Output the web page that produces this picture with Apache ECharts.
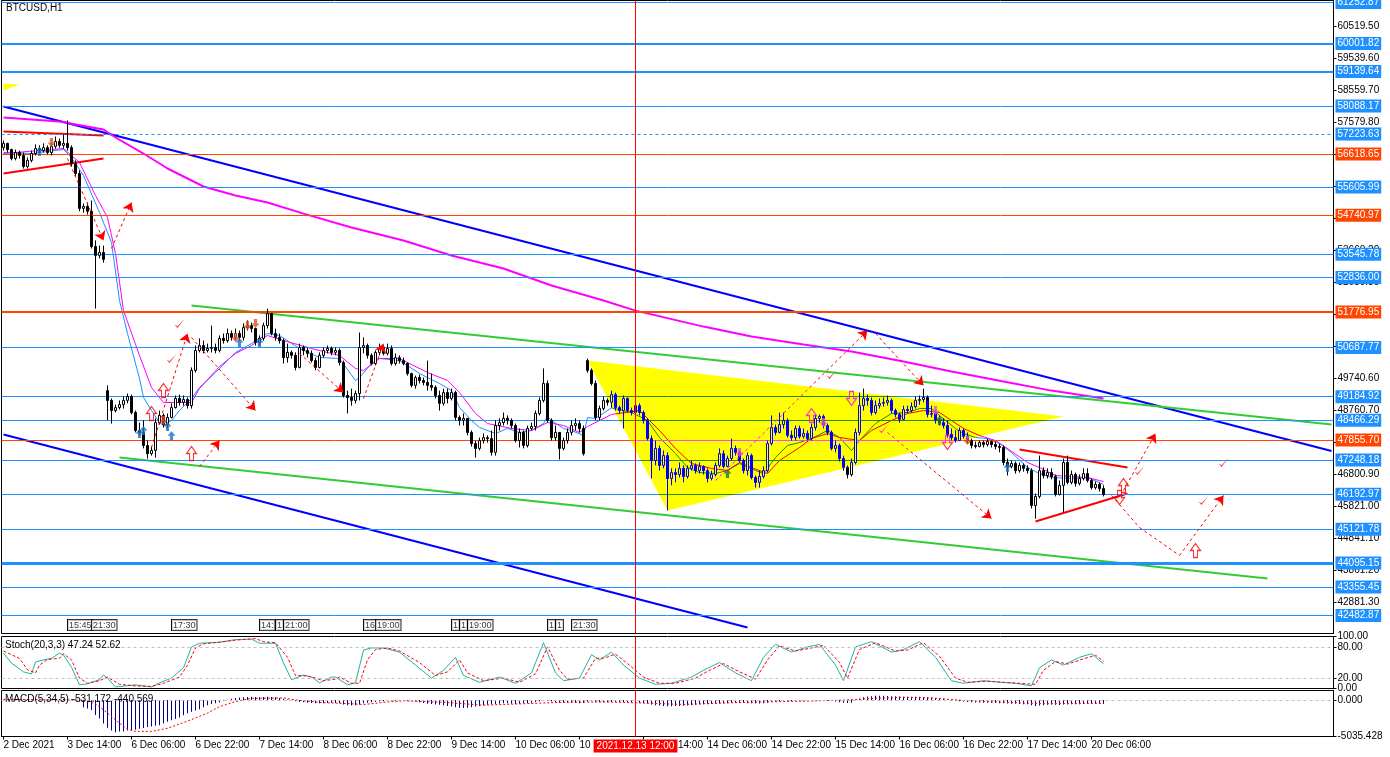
<!DOCTYPE html>
<html><head><meta charset="utf-8">
<script src="https://cdn.jsdelivr.net/npm/echarts@6/dist/echarts.min.js"></script>
<style>html,body{margin:0;padding:0;background:#fff}#c{width:1390px;height:757px}</style>
</head><body><div id="c"></div><script>
// ---------- DATA ----------
const xTickLabels = ["2 Dec 2021","3 Dec 14:00","6 Dec 06:00","6 Dec 22:00","7 Dec 14:00","8 Dec 06:00","8 Dec 22:00","9 Dec 14:00","10 Dec 06:00","10 Dec 22:00","13 Dec 14:00","14 Dec 06:00","14 Dec 22:00","15 Dec 14:00","16 Dec 06:00","16 Dec 22:00","17 Dec 14:00","20 Dec 06:00"];
const priceTicks = [60519.50,59539.60,58559.70,57579.80,56599.90,55620.00,54640.10,53660.20,52680.30,51700.40,50720.50,49740.60,48760.70,47780.80,46800.90,45821.00,44841.10,43861.20,42881.30];
const stochTicks = [100,80,20,0];
const macdTicks = [1330.378,0,-5035.428];
// candles: [open, close, low, high]
const candles = [
[56810,56940,56720,57030],[56940,56750,56660,56960],[56750,56480,56420,56780],[56480,56660,56420,56750],[56660,56570,56480,56720],
[56570,56230,56170,56660],[56230,56420,56170,56510],[56420,56630,56360,56720],[56630,56780,56570,56910],[56780,56720,56630,56880],
[56720,56810,56660,56940],[56810,56660,56600,56880],[56660,56850,56570,56940],[56850,57000,56780,57150],[57000,56880,56810,57090],
[56880,56940,56780,57210],[56940,56810,56720,57640],[56810,56320,56230,56880],[56320,56020,55930,56420],[56020,54950,54860,56110],
[54950,55010,54820,55100],[55010,54860,54760,55130],[54860,53780,53720,55190],[53780,53510,51880,53970],[53510,53600,53420,53810],
[53600,53390,53290,53810],
[49370,49070,48460,49530],[49070,48760,48360,49130],[48760,48850,48700,48940],[48850,48940,48790,49070],[48940,49070,48820,49190],
[49070,49190,48980,49280],[49190,48700,48640,49250],[48700,48150,48090,48760],[48150,48090,48000,48390],[48090,47690,47600,48460],
[47690,47440,47290,47840],[47440,47540,47380,47660],[47540,48390,47320,48520],[48390,48610,48330,48760],[48610,48330,48240,48670],
[48330,48550,48210,48670],[48550,48850,48520,48980],[48850,49130,48820,49220],[49130,49010,48910,49250],[49010,49100,48910,49220],
[49100,48910,48820,49160],[48910,49990,48820,50080],[49990,50600,49920,50750],[50600,50750,50540,50970],[50750,50600,50510,50900],
[50600,50660,50540,50810],[50660,50690,50540,51360],[50690,50600,50510,50810],[50600,50970,50540,51060],[50970,50900,50810,51120],
[50900,51120,50840,51270],[51120,51000,50900,51210],[51000,51120,50900,51270],[51120,51000,50900,51210],[51000,51300,50900,51430],
[51300,51360,51210,51520],[51360,51270,51150,51450],[51270,50840,50750,51300],[50840,50970,50750,51060],[50970,51360,50900,51450],
[51360,51730,51270,51880],[51730,51120,51060,51730],[51120,51000,50900,51270],[51000,50900,50810,51120],[50900,50380,50200,50970],
[50380,50540,50230,50810],[50540,50450,50350,50600],[50450,50080,49990,50540],[50080,50690,50050,50810],[50690,50600,50450,50750],
[50600,50510,50380,50690],[50510,50290,50230,50600],[50290,50080,49990,50380],[50080,50450,50050,50540],[50450,50600,50380,50690],
[50600,50660,50510,50750],[50660,50540,50450,50720],[50540,50600,50450,50690],[50600,50230,50140,50660],[50230,49220,49160,50290],
[49220,49160,48670,49370],[49160,49070,48910,49430],[49070,49280,48980,49370],[49280,50690,49070,51150],[50690,50750,50510,51000],
[50750,50450,50350,50810],[50450,50200,50140,50510],[50200,50540,50140,50600],[50540,50690,50450,50810],[50690,50510,50450,50750],
[50510,50660,50450,50810],[50660,50200,50140,50750],[50200,50380,50140,50510],[50380,50290,50200,50450],[50290,50200,50140,50380],
[50200,49890,49830,50230],[49890,49530,49470,49920],[49530,49770,49430,49830],[49770,49680,49590,49860],[49680,49620,49530,49770],
[49620,49530,49370,50290],[49530,49470,49370,49890],[49470,49220,49130,49530],[49220,48980,48760,49370],[48980,49310,48910,49430],
[49310,49130,48980,49430],[49130,49310,49070,49430],[49310,48550,48460,49370],[48550,48460,48300,48610],[48460,48520,48300,48670],
[48520,48090,48000,48520],[48090,47750,47660,48150],[47750,47600,47320,47840],[47600,47840,47540,47930],[47840,47930,47750,48060],
[47930,47900,47780,48000],[47900,47480,47380,48150],[47480,48300,47380,48460],[48300,48390,48150,48520],[48390,48520,48300,48700],
[48520,48460,48330,48610],[48460,48300,48210,48520],[48300,47840,47780,48360],[47840,48090,47630,48210],[48090,47690,47600,48150],
[47690,48210,47630,48300],[48210,48270,48150,48390],[48270,48670,48150,48760],[48670,49070,48610,49160],[49070,49590,49010,50050],
[49590,48460,48390,49680],[48460,47930,47840,48520],[47930,48090,47840,48300],[48090,47600,47260,48000],[47600,47840,47540,47930],
[47840,48090,47750,48210],[48090,48300,48000,48460],[48300,48360,48150,48520],[48360,48210,48090,48460],[48210,47440,47380,48300],
[50290,49990,49920,50350],[49990,49590,49530,50050],[49590,48550,48460,49680],[48550,48820,48460,48910],[48820,49070,48760,49190],
[49070,49010,48910,49130],[49010,49250,48850,49370],[49250,48850,48760,49310],[48850,48760,48670,48910],[48760,49130,48210,49220],
[49130,48760,48700,49160],[48760,48700,48610,48850],[48700,48910,48640,49070],[48910,48700,48610,48980],[48700,48460,48360,48760],
[48460,47900,47840,48520],[47900,47230,46680,48000],[47230,47600,47080,47840],[47600,47080,46920,47690],[47080,47380,46990,47540],
[47380,46680,45700,47480],[46680,46860,46470,46990],[46860,46800,46560,46990],[46800,46990,46710,47170],[46990,46740,46560,47080],
[46740,46990,46680,47080],[46990,47080,46920,47230],[47080,46920,46830,47140],[46920,47050,46830,47170],[47050,46920,46800,47080],
[46920,46680,46560,46990],[46680,46800,46620,46920],[46800,47080,46740,47170],[47080,47440,47020,47600],[47440,47050,46990,47540],
[47050,47290,47020,47380],[47290,47600,47230,47900],[47600,47480,47380,47690],[47480,47230,47170,47540],[47230,46920,46830,47290],
[46920,47380,46770,47480],[47380,46710,46650,47440],[46710,46560,46400,46770],[46560,46740,46400,46920],[46740,46920,46680,47050],
[46920,47750,46860,47840],[47750,48240,47690,48610],[48240,48090,48000,48330],[48090,48330,48060,48700],[48330,48460,48210,48700],
[48460,48000,47930,48520],[48000,47930,47840,48150],[47930,48210,47840,48300],[48210,47970,47900,48300],[47970,48060,47900,48210],
[48060,47900,47840,48150],[47900,48240,47840,48360],[48240,48520,48150,48640],[48520,48580,48390,48640],[48580,48300,48210,48640],
[48300,48090,48000,48360],[48090,47600,47540,48150],[47600,47690,47480,47840],[47690,47290,47200,47750],[47290,47020,46920,47380],
[47020,46800,46680,47080],[46800,47170,46740,47290],[47170,48090,47110,48210],[48090,48910,48000,49310],[48910,49130,48760,49430],
[49130,49070,48910,49250],[49070,48700,48610,49160],[48700,48910,48640,49070],[48910,48980,48820,49130],[48980,49010,48880,49160],
[49010,49070,48910,49220],[49070,48760,48670,49130],[48760,48640,48550,48820],[48640,48490,48390,48700],[48490,48790,48460,48910],
[48790,48760,48670,48910],[48760,48880,48700,49010],[48880,49070,48820,49190],[49070,49100,48940,49220],[49100,49160,49010,49430],
[49160,48640,48550,49220],[48640,48670,48550,48910],[48670,48460,48360,48760],[48460,48390,48300,48610],[48390,48300,48210,48520],
[48300,48030,47930,48460],[48030,47930,47840,48210],[47930,47840,47780,48150],[47840,48150,47840,48240],[48150,47970,47900,48210],
[47970,47840,47750,48090],[47840,47690,47600,47900],[47690,47660,47600,47810],[47660,47780,47630,47840],[47780,47720,47630,47840],
[47720,47810,47660,47900],[47810,47720,47630,47840],[47720,47660,47570,47810],[47660,47630,47480,47750],[47630,47170,47080,47690],
[47170,47050,46770,47290],[47050,47140,46990,47230],[47140,46920,46830,47200],[46920,47080,46860,47170],[47080,46990,46890,47140],
[46990,46920,46830,47080],[46920,45850,45760,46990],[45850,46130,45450,46220],[46130,46920,46070,47380],[46920,46770,46680,47020],
[46770,46860,46680,46990],[46860,46740,46650,46990],[46740,46190,46130,46800],[46190,46470,46160,46620],[46470,47170,45640,47290],
[47170,46560,46500,47380],[46560,46800,46500,46920],[46800,46530,46430,46860],[46530,46680,46470,46800],[46680,46830,46620,46990],
[46830,46620,46560,46990],[46620,46400,46340,46680],[46400,46500,46340,46590],[46500,46370,46280,46560],[46370,46190,46130,46470]
];
// moving averages: [barIndex, price]
const maLong = [[0,57733],[14,57610],[25,57365],[28,57120],[35,56630],[41,56171],[46,55865],[50,55620],[58,55344],[66,55130],[75,54790],[87,54365],[100,53966],[112,53507],[125,53110],[137,52590],[150,52130],[158,51820],[175,51330],[187,51030],[200,50780],[212,50570],[225,50260],[237,49955],[250,49650],[262,49370],[275,49130]];
const maFast = [[0,56661],[7,56630],[15,56753],[17,56508],[20,55957],[24,54824],[27,53905],[29,52130],[31,51119],[34,49741],[35,49159],[37,48761],[39,48393],[40,48302],[42,48455],[44,48761],[47,49128],[49,49465],[53,49925],[58,50537],[62,50812],[66,51119],[69,51057],[74,50659],[79,50384],[84,50353],[88,49679],[89,49771],[92,50200],[94,50353],[99,50292],[104,49894],[109,49588],[112,49373],[114,48853],[117,48455],[119,48240],[123,48056],[126,48210],[129,48087],[132,48148],[135,48363],[136,48577],[137,48455],[140,48210],[142,48148],[145,47995],[146,48546],[148,48516],[152,48840],[157,48700],[161,48455],[164,47934],[168,47444],[171,47015],[174,46862],[178,46832],[181,46924],[184,47138],[188,46924],[190,46832],[193,47321],[196,47689],[199,47781],[202,47903],[206,48148],[209,47934],[212,47536],[214,47842],[218,48363],[222,48669],[226,48700],[229,48822],[232,48822],[234,48608],[238,48210],[240,48056],[243,47934],[246,47903],[249,47750],[252,47475],[256,47015],[258,46893],[259,46832],[262,46709],[267,46679],[271,46709],[274,46556],[275,46495]];
const maSlow = [[0,56630],[15,56783],[19,56355],[23,55344],[26,54670],[28,53568],[30,51823],[34,50445],[37,49465],[40,49006],[47,49006],[49,49434],[54,50108],[58,50506],[62,50751],[66,51057],[70,50904],[77,50659],[84,50445],[88,50047],[90,49986],[94,50353],[99,50353],[106,49925],[111,49679],[114,49312],[118,48669],[121,48363],[127,48210],[132,48148],[136,48393],[140,48302],[144,48087],[146,48271],[149,48455],[152,48640],[159,48761],[164,48148],[168,47597],[172,47138],[177,46985],[181,46924],[184,47169],[187,47015],[191,46832],[194,47230],[199,47628],[202,47903],[206,48056],[209,47934],[214,47842],[217,48148],[222,48455],[226,48669],[230,48761],[234,48700],[237,48455],[240,48210],[244,47995],[248,47842],[251,47597],[256,47169],[259,47015],[263,46770],[267,46740],[271,46709],[274,46617],[275,46587]];
// horizontal levels
const levelsBlue = [61252.87,58088.17,55605.99,53545.78,52836.00,50687.77,49184.92,48466.29,47248.18,46192.97,45121.78,43355.45,42482.87];
const levelsBlueWide = [60001.82,59139.64];
const levelsBlueHeavy = [44095.15];
const levelsBlueDashed = [57223.63];
const levelsOrange = [56618.65,54740.97,47855.70];
const levelsOrangeWide = [51776.95];
const vLineIndex = 158;
const vLineLabel = "2021.12.13 12:00";
// trend lines [[bar, price],[bar, price]]
const trendBlue = [[[0,58069],[332,47520]],[[0,48026],[186,42116]]];
const trendGreen = [[[47,51976],[332,48332]],[[29,47321],[316,43617]]];
const trendRed = [[[0,57304],[25,57181]],[[0,56018],[25,56477]],[[254,47567],[281,47015]],[[258,45362],[281,46219]]];
const triangles = [[[146,50292],[166,45699],[265,48577]],[[0,58774],[4,58743],[0,58559]]];
const projArrows = [[[16,56477],[25,53966]],[[27,53721],[32,55130]],[[37,47628],[46,51119]],[[47,50996],[63,48761]],[[49,47046],[54,47842]],[[74,50506],[85,49312]],[[90,49128],[95,50812]],[[178,46617],[216,51210]],[[218,51119],[230,49526]],[[221,48087],[247,45453]],[[294,44321],[305,46158]],[[280,46311],[288,48056]]];
const projPlain = [[[277,46158],[284,45178]],[[284,45178],[294,44321]]];
// signal marks
const marksUpBlue = [[9,56691],[34,48056],[35,48148],[41,48270],[42,47990],[59,50843],[64,50843],[181,46832],[234,48455],[251,47015]];
const marksDownOrange = [[12,56967],[40,48455],[58,50996],[61,51364],[63,51425],[184,47475],[205,48393],[233,48761],[241,47842]];
const marksHollowUp = [[37,48669],[40,49373],[47,47444],[202,48608],[280,46464],[298,44474]];
const marksHollowDown = [[212,49128],[236,47781],[279,46097]];
const marksCheck = [[44,51425],[42,50353],[207,49863],[220,48200],[284,46924],[300,46005],[305,47169]];
// time tags of vertical objects along the bottom of the price panel
const timeTagPrice = 42190;
const timeTags = [[16,"15:45"],[22,"21:30"],[42,"17:30"],[64,"14:"],[68,"1"],[70,"21:00"],[90,"16"],[93,"19:00"],[112,"1"],[114,"1"],[116,"19:00"],[136,"1"],[138,"1"],[142,"21:30"]];
// stochastic
const stochMain = [[0,68],[2,49],[5,32],[7,28],[8,51],[10,55],[12,58],[14,68],[15,64],[17,41],[19,7],[21,9],[24,17],[25,26],[26,20],[28,3],[33,7],[37,3],[39,11],[42,20],[45,40],[47,80],[49,87],[54,89],[58,94],[62,95],[64,87],[68,87],[70,49],[72,17],[75,26],[77,22],[79,11],[82,22],[83,22],[86,7],[88,11],[90,74],[92,78],[95,78],[99,70],[103,45],[107,20],[110,35],[113,60],[115,25],[119,12],[124,22],[128,10],[132,30],[135,88],[138,30],[140,15],[144,20],[147,65],[149,55],[152,70],[155,45],[159,20],[163,8],[167,10],[172,22],[175,35],[179,50],[183,30],[187,15],[190,60],[193,85],[197,70],[201,80],[204,85],[208,45],[210,15],[213,80],[217,90],[222,70],[225,75],[229,90],[233,60],[237,15],[240,10],[245,15],[249,12],[253,10],[257,5],[259,40],[262,55],[265,45],[269,60],[272,67],[275,47.24]];
const stochSignal = [[0,72],[4,58],[6,36],[8,30],[9,45],[11,56],[14,58],[15,67],[17,55],[19,20],[21,10],[24,15],[26,22],[29,8],[33,5],[37,4],[40,10],[44,22],[46,45],[48,78],[50,86],[54,89],[58,93],[63,96],[65,90],[68,88],[71,60],[73,25],[76,24],[78,20],[80,15],[83,18],[84,22],[87,10],[89,10],[91,55],[93,75],[96,78],[99,72],[104,50],[108,25],[111,32],[114,55],[116,30],[120,15],[125,20],[129,12],[133,28],[136,80],[139,35],[141,18],[145,20],[148,58],[150,58],[153,66],[156,48],[160,22],[164,10],[168,10],[173,20],[176,33],[180,48],[184,32],[188,18],[191,55],[194,82],[198,72],[202,78],[205,83],[209,50],[211,20],[214,75],[218,88],[223,72],[226,74],[230,88],[234,62],[238,20],[241,12],[246,14],[250,12],[254,10],[258,8],[260,35],[263,52],[266,47],[270,57],[273,64],[275,52.62]];
// MACD
const macdHist = [60,70,80,90,100,110,120,120,110,100,100,110,120,130,140,150,140,120,80,-200,
-980,-1170,-1360,-2070,-2540,-3240,-3810,-4190,-4430,-4330,-4330,-4190,-4190,-4090,-3950,-3850,-3720,-3650,-3560,-3480,
-3250,-3010,-2800,-2600,-2400,-2100,-1830,-1620,-1430,-1260,-1000,-700,-550,-420,-320,-85,60,200,300,350,
400,420,450,430,400,420,450,420,380,300,200,100,0,-150,-250,-300,-350,-400,-450,-450,
-420,-400,-380,-400,-450,-600,-700,-750,-700,-600,-450,-350,-300,-250,-200,-150,-100,-100,-80,-50,
-50,-100,-150,-200,-300,-400,-500,-550,-600,-650,-700,-800,-900,-1000,-1050,-1100,-1050,-1000,-900,-800,
-700,-650,-600,-550,-500,-450,-450,-500,-550,-500,-450,-400,-350,-250,-150,-50,-100,-200,-300,-350,
-350,-350,-380,-400,-420,-400,-200,-150,-250,-300,-300,-280,-260,-250,-260,-280,-300,-320,-350,-400,
-450,-500,-600,-700,-750,-800,-850,-850,-820,-800,-780,-750,-700,-650,-600,-580,-560,-550,-520,-480,
-450,-420,-400,-380,-380,-400,-420,-450,-470,-480,-450,-350,-250,-200,-150,-100,-100,-120,-100,-80,
-60,-50,-30,0,20,0,-50,-100,-200,-300,-350,-400,-350,-100,200,400,500,550,600,620,
600,580,550,520,500,480,470,460,460,450,440,400,350,300,250,200,100,0,-100,-150,
-200,-250,-300,-320,-340,-350,-360,-380,-400,-420,-450,-480,-500,-520,-540,-560,-580,-700,-800,-750,
-700,-650,-620,-640,-660,-620,-600,-580,-570,-560,-550,-540,-535,-533,-532,-531.172];
const macdSignal = [[0,100],[20,0],[23,-500],[26,-1800],[29,-3200],[31,-4000],[33,-4330],[37,-4330],[41,-3900],[44,-3300],[47,-2700],[51,-1800],[54,-900],[58,-200],[62,250],[70,300],[72,100],[75,-100],[80,-350],[85,-450],[90,-600],[92,-500],[96,-250],[100,-100],[110,-300],[120,-700],[130,-500],[140,-300],[150,-250],[160,-400],[170,-600],[180,-400],[190,-250],[200,-150],[210,0],[218,250],[225,400],[232,300],[240,-50],[250,-300],[260,-500],[270,-450],[275,-440.569]];

// ---------- CHART ----------
const FONT = 'Liberation Sans';
const NCAT = 333;
const cats = Array.from({length: NCAT}, (_, i) => String(i));
const BLUE = '#1E90FF', ORANGE = '#FF4500';
const PRICE_MIN = 41933, PRICE_MAX = 61315;
const MACD_MIN = -5035.428, MACD_MAX = 1330.378;

const chart = echarts.init(document.getElementById('c'), null, {renderer: 'canvas'});

function lvl(v, color, width, type) {
  return {yAxis: v, lineStyle: {color: color, width: width, type: type || 'solid'},
    label: {show: true, position: 'end', distance: 2, formatter: v.toFixed(2), color: '#fff',
      backgroundColor: color, padding: [2, 2, 1, 2], fontFamily: FONT, fontSize: 10}};
}
const levelData = [].concat(
  levelsBlue.map(v => lvl(v, BLUE, 1)),
  levelsBlueWide.map(v => lvl(v, BLUE, 2)),
  levelsBlueHeavy.map(v => lvl(v, BLUE, 3)),
  levelsBlueDashed.map(v => lvl(v, BLUE, 1, [3, 3])),
  levelsOrange.map(v => lvl(v, ORANGE, 1)),
  levelsOrangeWide.map(v => lvl(v, ORANGE, 2))
);

function lineS(data, color, width, z) {
  return {type: 'line', xAxisIndex: 0, yAxisIndex: 0, data: data, symbol: 'none',
    lineStyle: {color: color, width: width}, z: z, silent: true};
}
function marks(data, symbol, size, style, z) {
  return {type: 'scatter', xAxisIndex: 0, yAxisIndex: 0, data: data, symbol: symbol, symbolSize: size,
    itemStyle: style, z: z, silent: true};
}
function vline(gi, lo, hi, withLabel, zlevel) {
  const s = {type: 'lines', coordinateSystem: 'cartesian2d', xAxisIndex: gi, yAxisIndex: gi, z: 20, zlevel: zlevel || 0,
    silent: true, clip: false,
    symbol: 'none', lineStyle: {color: '#ff0000', width: 1, opacity: 1, type: 'solid'},
    data: [{coords: [[vLineIndex, lo], [vLineIndex, hi]]}]};
  if (withLabel) {
    s.label = {show: true, position: 'start', distance: 3, formatter: vLineLabel, color: '#fff',
      backgroundColor: '#ff0000', padding: [2, 3, 1, 3], fontFamily: FONT, fontSize: 10};
  }
  return s;
}
const UP = 'path://M5,0 L10,5 L7,5 L7,10 L3,10 L3,5 L0,5 Z';
const DOWN = 'path://M3,0 L7,0 L7,5 L10,5 L5,10 L0,5 L3,5 Z';
const CHECK = 'path://M0,6 L3,10 L10,0 L3,8 Z';

const axisLbl = {color: '#000', fontFamily: FONT, fontSize: 10};
const tagFilter = (i) => i % 16 === 0 && i / 16 < xTickLabels.length;

const option = {
  animation: false,
  backgroundColor: '#ffffff',
  title: [
    {text: 'BTCUSD,H1', left: 6, top: 3, padding: 0, textStyle: {fontFamily: FONT, fontSize: 10, fontWeight: 'normal', color: '#000'}},
    {text: 'Stoch(20,3,3) 47.24 52.62', left: 5, top: 640, padding: 0, textStyle: {fontFamily: FONT, fontSize: 10, fontWeight: 'normal', color: '#000'}},
    {text: 'MACD(5,34,5) -531.172 -440.569', left: 5, top: 694, padding: 0, textStyle: {fontFamily: FONT, fontSize: 10, fontWeight: 'normal', color: '#000'}}
  ],
  grid: [
    {left: 1.5, top: 0.5, width: 1332, height: 633, show: true, borderColor: '#000', borderWidth: 1},
    {left: 1.5, top: 636.5, width: 1332, height: 52, show: true, borderColor: '#000', borderWidth: 1},
    {left: 1.5, top: 690.5, width: 1332, height: 46, show: true, borderColor: '#000', borderWidth: 1}
  ],
  xAxis: [
    {type: 'category', gridIndex: 0, data: cats, boundaryGap: true, axisLine: {show: false}, axisTick: {show: false}, axisLabel: {show: false}, splitLine: {show: false}},
    {type: 'category', gridIndex: 1, data: cats, boundaryGap: true, axisLine: {show: false}, axisTick: {show: false}, axisLabel: {show: false}, splitLine: {show: false}},
    {type: 'category', gridIndex: 2, data: cats, boundaryGap: true,
      axisLine: {show: true, onZero: false, lineStyle: {color: '#000'}},
      axisTick: {show: true, alignWithLabel: true, length: 3, lineStyle: {color: '#000'}, interval: tagFilter},
      axisLabel: Object.assign({show: true, align: 'left', margin: 4, hideOverlap: false, interval: tagFilter,
        formatter: (v, i) => (i % 16 === 0 && xTickLabels[i / 16]) ? xTickLabels[i / 16] : ''}, axisLbl),
      splitLine: {show: false}}
  ],
  yAxis: [
    {type: 'value', gridIndex: 0, position: 'right', min: PRICE_MIN, max: PRICE_MAX,
      axisLine: {show: true, lineStyle: {color: '#000'}},
      axisTick: {show: true, length: 3, customValues: priceTicks, lineStyle: {color: '#000'}},
      axisLabel: Object.assign({customValues: priceTicks, margin: 4, formatter: v => v.toFixed(2)}, axisLbl),
      splitLine: {show: false}},
    {type: 'value', gridIndex: 1, position: 'right', min: 0, max: 100,
      axisLine: {show: true, lineStyle: {color: '#000'}},
      axisTick: {show: true, length: 3, customValues: stochTicks, lineStyle: {color: '#000'}},
      axisLabel: Object.assign({customValues: stochTicks, margin: 4, formatter: v => v.toFixed(2)}, axisLbl),
      splitLine: {show: false}},
    {type: 'value', gridIndex: 2, position: 'right', min: MACD_MIN, max: MACD_MAX,
      axisLine: {show: true, lineStyle: {color: '#000'}},
      axisTick: {show: true, length: 3, customValues: macdTicks, lineStyle: {color: '#000'}},
      axisLabel: Object.assign({customValues: macdTicks, margin: 4, formatter: v => v.toFixed(3)}, axisLbl),
      splitLine: {show: false}}
  ],
  series: [
    {type: 'line', name: 'levels', xAxisIndex: 0, yAxisIndex: 0, data: [], z: 2, silent: true,
      markLine: {silent: true, symbol: 'none', animation: false, data: levelData}},
    {type: 'lines', coordinateSystem: 'cartesian2d', xAxisIndex: 0, yAxisIndex: 0, z: 3, silent: true, polyline: false,
      data: [].concat(
        trendBlue.map(c => ({coords: c, lineStyle: {color: '#0000ff', width: 2}})),
        trendGreen.map(c => ({coords: c, lineStyle: {color: '#32cd32', width: 2}})),
        trendRed.map(c => ({coords: c, lineStyle: {color: '#ff0000', width: 2}}))
      ),
      lineStyle: {opacity: 1, curveness: 0}},
    lineS(maLong, '#ff00ff', 2, 4),
    lineS(maFast, BLUE, 1, 4),
    lineS(maSlow, '#ff00ff', 1, 4),
    {type: 'candlestick', name: 'BTCUSD', xAxisIndex: 0, yAxisIndex: 0, z: 5, silent: true, barWidth: 3,
      data: candles,
      itemStyle: {color: '#ffffff', color0: '#000000', borderColor: '#000000', borderColor0: '#000000', borderWidth: 1}},
    {type: 'lines', coordinateSystem: 'cartesian2d', xAxisIndex: 0, yAxisIndex: 0, z: 6, silent: true,
      symbol: ['none', 'arrow'], symbolSize: 9,
      lineStyle: {color: '#ff0000', width: 1, type: [3, 3], opacity: 1, curveness: 0},
      data: projArrows.map(c => ({coords: c}))},
    {type: 'lines', coordinateSystem: 'cartesian2d', xAxisIndex: 0, yAxisIndex: 0, z: 6, silent: true,
      symbol: 'none',
      lineStyle: {color: '#ff0000', width: 1, type: [3, 3], opacity: 1, curveness: 0},
      data: projPlain.map(c => ({coords: c}))},
    marks(marksUpBlue, UP, [8, 9], {color: '#1f6fc0'}, 7),
    marks(marksDownOrange, DOWN, [8, 9], {color: '#e0502a'}, 7),
    marks(marksHollowUp, UP, [10, 14], {color: 'rgba(255,255,255,0)', borderColor: '#ff0000', borderWidth: 1.2}, 7),
    marks(marksHollowDown, DOWN, [10, 14], {color: 'rgba(255,255,255,0)', borderColor: '#ff0000', borderWidth: 1.2}, 7),
    marks(marksCheck, CHECK, [10, 9], {color: '#ff0000'}, 7),
    {type: 'scatter', xAxisIndex: 0, yAxisIndex: 0, z: 6, silent: true,
      data: timeTags.map(t => ({value: [t[0], timeTagPrice], tag: t[1]})),
      symbol: 'rect', symbolSize: [1, 12], itemStyle: {color: '#000'},
      label: {show: true, position: 'right', distance: 0, formatter: p => p.data.tag, color: '#000',
        fontFamily: FONT, fontSize: 9, backgroundColor: '#fff', borderColor: '#000', borderWidth: 1, padding: [1, 1, 0, 1]}},
    // the triangle object inverts what lies beneath it (XOR-like), as in the terminal: own layer, blended
    {type: 'custom', name: 'triangle', xAxisIndex: 0, yAxisIndex: 0, zlevel: 1, z: 1, silent: true,
      data: triangles.map(t => [t[0][0], t[0][1], t[1][0], t[1][1], t[2][0], t[2][1]]),
      encode: {x: [0, 2, 4], y: [1, 3, 5]},
      renderItem: function (params, api) {
        const p = [0, 1, 2].map(k => api.coord([api.value(2 * k), api.value(2 * k + 1)]));
        return {type: 'polygon', shape: {points: p}, style: {fill: '#0000ff', stroke: null}};
      }},
    vline(0, PRICE_MIN, PRICE_MAX, false, 2),
    // stochastic
    {type: 'line', xAxisIndex: 1, yAxisIndex: 1, data: stochMain, symbol: 'none', silent: true, z: 4,
      lineStyle: {color: '#20B2AA', width: 1},
      markLine: {silent: true, symbol: 'none', animation: false, data: [
        {yAxis: 80, lineStyle: {color: '#c0c0c0', type: [3, 3], width: 1}, label: {show: false}},
        {yAxis: 20, lineStyle: {color: '#c0c0c0', type: [3, 3], width: 1}, label: {show: false}}
      ]}},
    {type: 'line', xAxisIndex: 1, yAxisIndex: 1, data: stochSignal, symbol: 'none', silent: true, z: 4,
      lineStyle: {color: '#ff0000', width: 1, type: [3, 2]}},
    vline(1, 0, 100, false, 0),
    // MACD
    {type: 'bar', xAxisIndex: 2, yAxisIndex: 2, data: macdHist, barWidth: 1, silent: true, z: 3,
      itemStyle: {color: '#00008B'}},
    {type: 'line', xAxisIndex: 2, yAxisIndex: 2, data: macdSignal, symbol: 'none', silent: true, z: 4,
      lineStyle: {color: '#ff0000', width: 1, type: [2, 2]},
      markLine: {silent: true, symbol: 'none', animation: false, data: [
        {yAxis: 0, lineStyle: {color: '#c0c0c0', type: [3, 3], width: 1}, label: {show: false}}
      ]}},
    vline(2, MACD_MIN, MACD_MAX, true, 0)
  ]
};
chart.setOption(option);

// blend the triangle's layer with what is beneath it (difference with blue == XOR look)
function blendTriangleLayer() {
  const layer = chart.getDom().querySelector('canvas[data-zr-dom-id="zr_1"]');
  if (layer) { layer.style.mixBlendMode = 'difference'; }
}
chart.getZr().refreshImmediately();
blendTriangleLayer();
chart.on('finished', blendTriangleLayer);
setTimeout(blendTriangleLayer, 50);
</script></body></html>
